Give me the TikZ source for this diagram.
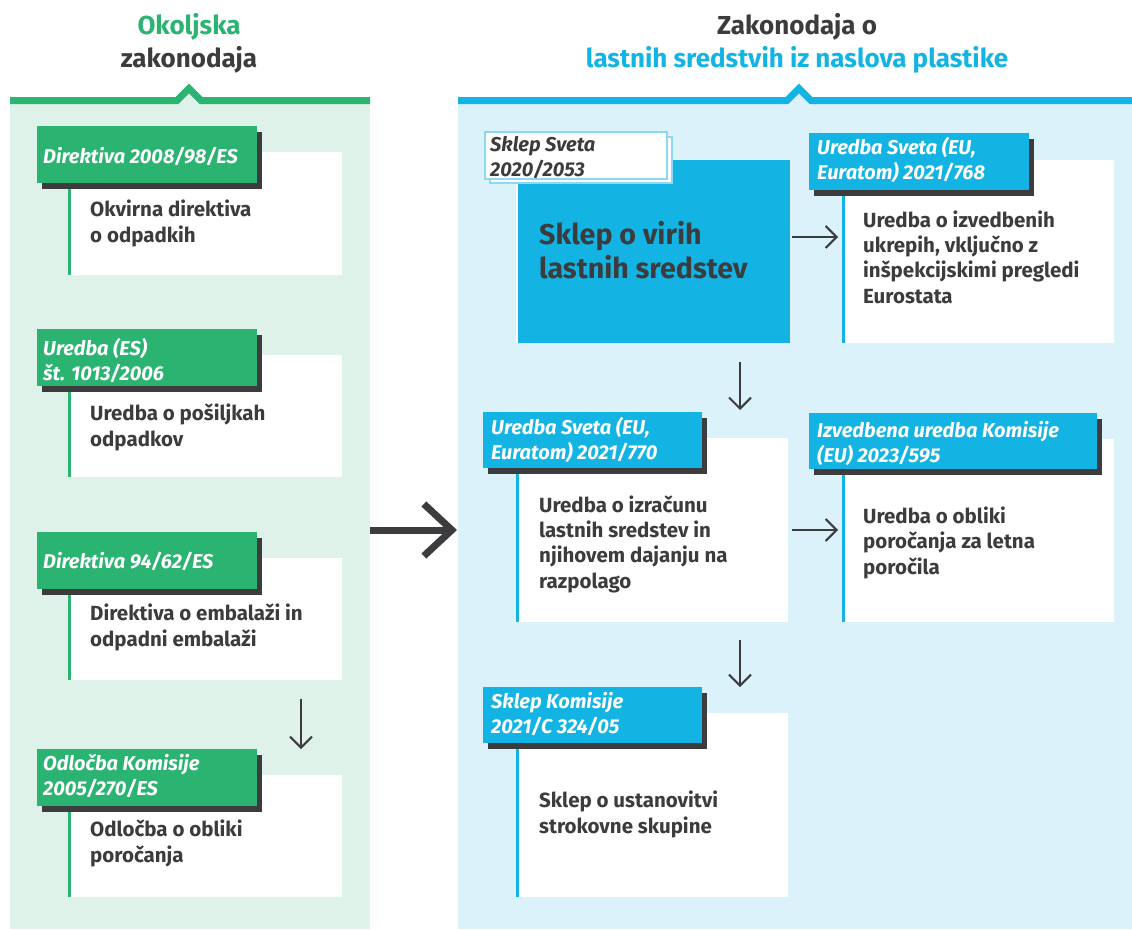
\documentclass[tikz,border=0pt]{standalone}
\usepackage{fontspec}
\setmainfont{Fira Sans}
\usetikzlibrary{arrows.meta}
\definecolor{gr}{HTML}{2BB372}
\definecolor{dk}{HTML}{3C3C3E}
\definecolor{bl}{HTML}{13B4E3}
\definecolor{lg}{HTML}{DFF2E9}
\definecolor{lb}{HTML}{DBF2FA}
\definecolor{tb}{HTML}{8DD8F2}
\begin{document}
\begin{tikzpicture}[x=1pt,y=-1pt,
  box/.style={inner sep=0pt, outer sep=0pt, anchor=north west},
  panel/.style={box},
  card/.style={box, fill=white},
  tagbox/.style={box, minimum height=57pt},
  tagtxt/.style={inner sep=0pt, anchor=base west, align=left, text=white,
     font=\fontsize{20}{25}\selectfont\bfseries\itshape},
  shadow/.style={fill=dk},
  body/.style={inner sep=0pt, anchor=base west, align=left, text=dk,
     font=\fontsize{20.5}{25.3}\selectfont\bfseries},
  ttl/.style={inner sep=0pt, font=\fontsize{26}{30}\selectfont\bfseries},
  arr/.style={draw=dk, line width=2pt, -{Straight Barb[length=11pt,width=22pt,line width=2pt]}},
  bigarr/.style={draw=dk, line width=7pt, -{Straight Barb[length=28pt,width=52pt,line width=7pt]}},
  gedge/.style={draw=gr, line width=2.5pt},
  bedge/.style={draw=bl, line width=2.5pt}
]
\useasboundingbox (0,0) rectangle (1132,929);
\fill[white] (0,0) rectangle (1132,929);

% panels
\node[panel, fill=lg, minimum width=360pt, minimum height=825pt] (lp) at (10,104) {};
\node[panel, fill=lb, minimum width=674pt, minimum height=825pt] (rp) at (458,104) {};

% header lines with caret
\fill[lg] (176,104) -- (189,91) -- (202,104) -- cycle;
\draw[gr, line width=7pt, line join=miter] (10,100.5) -- (177,100.5) -- (189,88.5) -- (201,100.5) -- (370,100.5);
\fill[lb] (786,104) -- (799,91) -- (812,104) -- cycle;
\draw[bl, line width=7pt, line join=miter] (458,100.5) -- (787,100.5) -- (799,88.5) -- (811,100.5) -- (1132,100.5);

% titles
\node[ttl, text=gr] (t1a) at (189,27) {Okoljska};
\node[ttl, text=dk] (t1b) at (189,60) {zakonodaja};
\node[ttl, text=dk] (t2a) at (797,27) {Zakonodaja o};
\node[ttl, text=bl] (t2b) at (797,60) {lastnih sredstvih iz naslova plastike};

% ---------- green cards ----------
% 1
\node[card, minimum width=274pt, minimum height=123pt] (gc1) at (68,152) {};
\draw[gedge] ([xshift=1.25pt]gc1.north west) -- ([xshift=1.25pt]gc1.south west);
\fill[shadow] (42,132) rectangle ++(220,57);
\node[tagbox, fill=gr, minimum width=220pt] (gt1) at (37,126) {};
\node[tagtxt] (gt1t) at (43,163) {Direktiva 2008/98/ES};
\node[body] (gb1) at (90,242) {Okvirna direktiva\\o odpadkih};
% 2
\node[card, minimum width=274pt, minimum height=122pt] (gc2) at (68,355) {};
\draw[gedge] ([xshift=1.25pt]gc2.north west) -- ([xshift=1.25pt]gc2.south west);
\fill[shadow] (42,335) rectangle ++(220,57);
\node[tagbox, fill=gr, minimum width=220pt] (gt2) at (37,329) {};
\node[tagtxt] (gt2t) at (43,380) {Uredba (ES)\\št. 1013/2006};
\node[body] (gb2) at (90,446) {Uredba o pošiljkah\\odpadkov};
% 3
\node[card, minimum width=274pt, minimum height=122pt] (gc3) at (68,558) {};
\draw[gedge] ([xshift=1.25pt]gc3.north west) -- ([xshift=1.25pt]gc3.south west);
\fill[shadow] (42,538) rectangle ++(220,57);
\node[tagbox, fill=gr, minimum width=220pt] (gt3) at (37,532) {};
\node[tagtxt] (gt3t) at (43,568) {Direktiva 94/62/ES};
\node[body] (gb3) at (90,646) {Direktiva o embalaži in\\odpadni embalaži};
% 4
\node[card, minimum width=274pt, minimum height=122pt] (gc4) at (68,775) {};
\draw[gedge] ([xshift=1.25pt]gc4.north west) -- ([xshift=1.25pt]gc4.south west);
\fill[shadow] (42,755) rectangle ++(220,57);
\node[tagbox, fill=gr, minimum width=220pt] (gt4) at (37,749) {};
\node[tagtxt] (gt4t) at (43,795) {Odločba Komisije\\2005/270/ES};
\node[body] (gb4) at (90,862) {Odločba o obliki\\poročanja};

% ---------- blue: main ----------
\node[box, fill=bl, minimum width=272pt, minimum height=183pt] (main) at (518,160) {};
\draw[white, line width=2pt] ([xshift=-1pt]main.north west) -- ([xshift=-1pt]main.south west);
\node[box, fill=white, draw=tb, line width=1.2pt, minimum width=182pt, minimum height=46pt] (mtagb) at (490,137) {};
\node[box, fill=white, draw=tb, line width=1.2pt, minimum width=182pt, minimum height=47pt] (mtag) at (485,132) {};
\node[tagtxt, text=dk] (mtagt) at (490,176) {Sklep Sveta\\2020/2053};
\node[body, font=\fontsize{28.6}{34}\selectfont\bfseries] (mainb) at (539,278) {Sklep o virih\\lastnih sredstev};

% c768
\node[card, minimum width=272pt, minimum height=183pt] (c768) at (842,160) {};
\draw[bedge] ([xshift=1.25pt]c768.north west) -- ([xshift=1.25pt]c768.south west);
\fill[shadow] (814,139) rectangle ++(220,57);
\node[tagbox, fill=bl, minimum width=220pt] (t768) at (809,133) {};
\node[tagtxt] (t768t) at (817,179) {Uredba Sveta (EU,\\Euratom) 2021/768};
\node[body] (b768) at (863,303) {Uredba o izvedbenih\\ukrepih, vključno z\\inšpekcijskimi pregledi\\Eurostata};

% c770
\node[card, minimum width=272pt, minimum height=184pt] (c770) at (516,438) {};
\draw[bedge] ([xshift=1.25pt]c770.north west) -- ([xshift=1.25pt]c770.south west);
\fill[shadow] (488,418) rectangle ++(219,56);
\node[tagbox, fill=bl, minimum width=219pt, minimum height=56pt] (t770) at (483,412) {};
\node[tagtxt] (t770t) at (491,459) {Uredba Sveta (EU,\\Euratom) 2021/770};
\node[body] (b770) at (539,588) {Uredba o izračunu\\lastnih sredstev in\\njihovem dajanju na\\razpolago};

% c595
\node[card, minimum width=272pt, minimum height=183pt] (c595) at (842,439) {};
\draw[bedge] ([xshift=1.25pt]c595.north west) -- ([xshift=1.25pt]c595.south west);
\fill[shadow] (814,419) rectangle ++(288,56);
\node[tagbox, fill=bl, minimum width=288pt, minimum height=56pt] (t595) at (809,413) {};
\node[tagtxt] (t595t) at (817,462) {Izvedbena uredba Komisije\\(EU) 2023/595};
\node[body] (b595) at (863,574) {Uredba o obliki\\poročanja za letna\\poročila};

% ck
\node[card, minimum width=272pt, minimum height=184pt] (ck) at (516,713) {};
\draw[bedge] ([xshift=1.25pt]ck.north west) -- ([xshift=1.25pt]ck.south west);
\fill[shadow] (488,693) rectangle ++(219,56);
\node[tagbox, fill=bl, minimum width=219pt, minimum height=56pt] (tk) at (483,687) {};
\node[tagtxt] (tkt) at (491,733) {Sklep Komisije\\2021/C 324/05};
\node[body] (bk) at (539,833) {Sklep o ustanovitvi\\strokovne skupine};

% ---------- connectors ----------
\coordinate (colL) at (301,0);
\coordinate (colR) at (740,0);
\coordinate (rowA) at (0,237);
\coordinate (rowB) at (0,530);
\draw[arr, shorten <=19pt] (gc3.south -| colL) -- (gt4.north -| colL);
\draw[bigarr, shorten >=1pt] (lp.east |- rowB) -- (rp.west |- rowB);
\draw[arr, shorten <=2pt, shorten >=4pt] (main.east |- rowA) -- (c768.west |- rowA);
\draw[arr, shorten <=19pt, shorten >=2pt] (main.south -| colR) -- (t770.north -| colR);
\draw[arr, shorten <=4pt, shorten >=4pt] (c770.east |- rowB) -- (c595.west |- rowB);
\draw[arr, shorten <=18pt] (c770.south -| colR) -- (tk.north -| colR);
\end{tikzpicture}
\end{document}
